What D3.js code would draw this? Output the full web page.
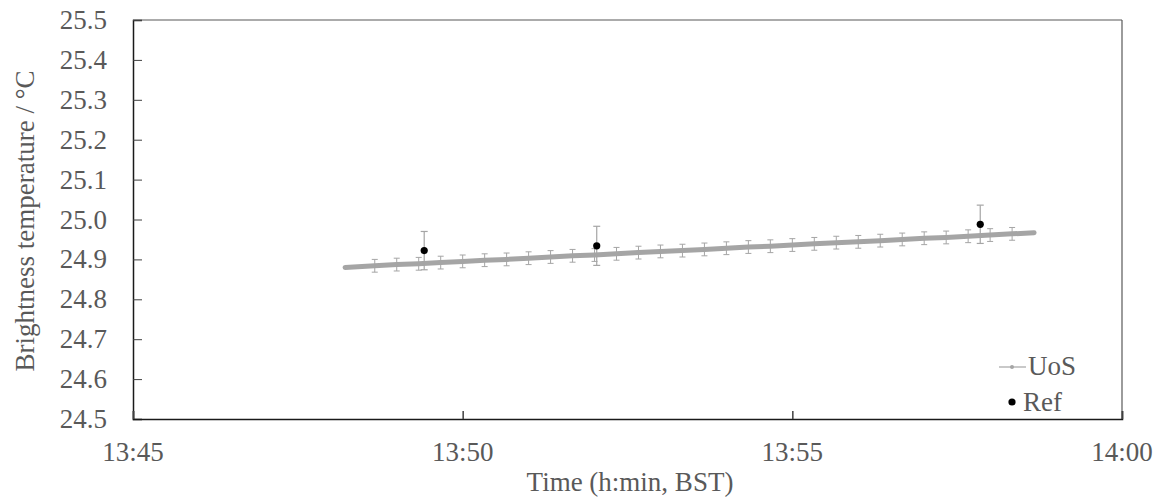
<!DOCTYPE html>
<html>
<head>
<meta charset="utf-8">
<script src="https://cdn.jsdelivr.net/npm/d3@7/dist/d3.min.js"></script>
<style>
  html, body { margin: 0; padding: 0; background: #fff; }
  svg { display: block; }
</style>
</head>
<body>
<svg id="chart" width="1161" height="503"></svg>
<script>
// ---- data ----
// times as "h:mm:ss" (BST)
const uosLineTimes = ["13:48:13","13:48:40","13:49:00","13:49:20","13:49:40","13:50:00","13:50:20","13:50:40","13:51:00","13:51:20","13:51:40","13:52:00","13:52:20","13:52:40","13:53:00","13:53:20","13:53:40","13:54:00","13:54:20","13:54:40","13:55:00","13:55:20","13:55:40","13:56:00","13:56:20","13:56:40","13:57:00","13:57:20","13:57:40","13:58:00","13:58:20","13:58:40"];
const uosLineValues = [24.880,24.884,24.887,24.889,24.892,24.895,24.898,24.900,24.903,24.906,24.909,24.911,24.914,24.917,24.920,24.922,24.925,24.928,24.931,24.933,24.936,24.939,24.942,24.944,24.947,24.950,24.953,24.955,24.958,24.961,24.964,24.967];
// error bars drawn on the 20-second points (all but the first and last line points)
const uosErrorTimes = uosLineTimes.slice(1, -1);
const uosErrorValues = uosLineValues.slice(1, -1);
const uosError = 0.016;

const refTimes = ["13:49:25","13:52:02","13:57:51"];
const refValues = [24.922, 24.934, 24.988];
const refErrors = [0.048, 0.049, 0.048];

const xTickLabels = ["13:45","13:50","13:55","14:00"];
const yTicks = [24.5,24.6,24.7,24.8,24.9,25.0,25.1,25.2,25.3,25.4,25.5];
const seriesNames = ["UoS","Ref"];

// ---- helpers ----
function toMin(t) {
  const p = t.split(":").map(Number);
  return p[0]*60 + p[1] + (p[2] || 0)/60;
}

const FONT = "'Liberation Serif', 'Times New Roman', Tinos, 'DejaVu Serif', serif";
const TXT = "#595959";
const FS = 27;

// ---- layout ----
const svg = d3.select("#chart");
const L = 133, R = 1122, T = 20, B = 419;

const x = d3.scaleLinear().domain([toMin("13:45"), toMin("14:00")]).range([L, R]);
const y = d3.scaleLinear().domain([24.5, 25.5]).range([B, T]);

const gray = "#a5a5a5";

// frame (top & right)
svg.append("line").attr("x1", L).attr("x2", R).attr("y1", T).attr("y2", T)
  .attr("stroke", "#595959").attr("stroke-width", 1.2);
svg.append("line").attr("x1", R).attr("x2", R).attr("y1", T).attr("y2", B)
  .attr("stroke", "#595959").attr("stroke-width", 1.2);

// y axis
const yAxis = d3.axisRight(y).tickValues(yTicks).tickSize(9).tickFormat("");
const gy = svg.append("g").attr("transform", `translate(${L},0)`).call(yAxis);
gy.select(".domain").attr("stroke", "#1a1a1a").attr("stroke-width", 1.5);
gy.selectAll(".tick line").attr("stroke", "#404040").attr("stroke-width", 1);

svg.append("g").selectAll("text").data(yTicks).join("text")
  .attr("font-family", FONT).attr("fill", TXT)
  .attr("x", 107).attr("y", d => y(d) + 9)
  .attr("text-anchor", "end").attr("font-size", FS)
  .text(d => d3.format(".1f")(d));

// x axis
const xTicksMin = xTickLabels.map(toMin);
const xAxis = d3.axisTop(x).tickValues(xTicksMin).tickSize(8).tickFormat("");
const gx = svg.append("g").attr("transform", `translate(0,${B})`).call(xAxis);
gx.select(".domain").attr("stroke", "#1a1a1a").attr("stroke-width", 1.5);
gx.selectAll(".tick line").attr("stroke", "#404040").attr("stroke-width", 1.5);

svg.append("g").selectAll("text").data(xTickLabels).join("text")
  .attr("font-family", FONT).attr("fill", TXT)
  .attr("x", d => x(toMin(d))).attr("y", 461)
  .attr("text-anchor", "middle").attr("font-size", FS)
  .text(d => d);

// axis titles
svg.append("text").attr("x", 630).attr("y", 491)
  .attr("font-family", FONT).attr("fill", TXT)
  .attr("text-anchor", "middle").attr("font-size", FS)
  .text("Time (h:min, BST)");
svg.append("text")
  .attr("font-family", FONT).attr("fill", TXT)
  .attr("transform", `translate(34,221) rotate(-90)`)
  .attr("text-anchor", "middle").attr("font-size", FS)
  .text("Brightness temperature / °C");

// UoS line
const uosData = uosLineTimes.map((t, i) => ({ t: toMin(t), v: uosLineValues[i] }));
svg.append("path").datum(uosData)
  .attr("fill", "none").attr("stroke", gray).attr("stroke-width", 5)
  .attr("stroke-linecap", "round")
  .attr("d", d3.line().x(d => x(d.t)).y(d => y(d.v)));

// UoS error bars
const uosErr = uosErrorTimes.map((t, i) => ({ t: toMin(t), v: uosErrorValues[i] }));
const ge = svg.append("g").attr("stroke", gray).attr("stroke-width", 1);
ge.selectAll("line.v").data(uosErr).join("line").attr("class", "v")
  .attr("x1", d => x(d.t)).attr("x2", d => x(d.t))
  .attr("y1", d => y(d.v + uosError)).attr("y2", d => y(d.v - uosError));
ge.selectAll("line.ct").data(uosErr).join("line").attr("class", "ct")
  .attr("x1", d => x(d.t) - 3).attr("x2", d => x(d.t) + 3)
  .attr("y1", d => y(d.v + uosError)).attr("y2", d => y(d.v + uosError));
ge.selectAll("line.cb").data(uosErr).join("line").attr("class", "cb")
  .attr("x1", d => x(d.t) - 3).attr("x2", d => x(d.t) + 3)
  .attr("y1", d => y(d.v - uosError)).attr("y2", d => y(d.v - uosError));

// Ref error bars + points
const refData = refTimes.map((t, i) => ({ t: toMin(t), v: refValues[i], e: refErrors[i] }));
const gr = svg.append("g").attr("stroke", gray).attr("stroke-width", 1.2);
gr.selectAll("line.v").data(refData).join("line").attr("class", "v")
  .attr("x1", d => x(d.t)).attr("x2", d => x(d.t))
  .attr("y1", d => y(d.v + d.e)).attr("y2", d => y(d.v - d.e));
gr.selectAll("line.ct").data(refData).join("line").attr("class", "ct")
  .attr("x1", d => x(d.t) - 3.5).attr("x2", d => x(d.t) + 3.5)
  .attr("y1", d => y(d.v + d.e)).attr("y2", d => y(d.v + d.e));
gr.selectAll("line.cb").data(refData).join("line").attr("class", "cb")
  .attr("x1", d => x(d.t) - 3.5).attr("x2", d => x(d.t) + 3.5)
  .attr("y1", d => y(d.v - d.e)).attr("y2", d => y(d.v - d.e));
svg.append("g").selectAll("circle").data(refData).join("circle")
  .attr("cx", d => x(d.t)).attr("cy", d => y(d.v)).attr("r", 3.6)
  .attr("fill", "#000");

// legend
const lg = svg.append("g");
lg.append("line").attr("x1", 999).attr("x2", 1026).attr("y1", 367).attr("y2", 367)
  .attr("stroke", gray).attr("stroke-width", 1.2);
lg.append("circle").attr("cx", 1012).attr("cy", 367).attr("r", 2).attr("fill", gray);
lg.append("text").attr("x", 1028).attr("y", 375)
  .attr("font-family", FONT).attr("fill", TXT)
  .attr("font-size", FS).text(seriesNames[0]);
lg.append("circle").attr("cx", 1012).attr("cy", 402).attr("r", 3.6).attr("fill", "#000");
lg.append("text").attr("x", 1023).attr("y", 411)
  .attr("font-family", FONT).attr("fill", TXT)
  .attr("font-size", FS).text(seriesNames[1]);
</script>
</body>
</html>
